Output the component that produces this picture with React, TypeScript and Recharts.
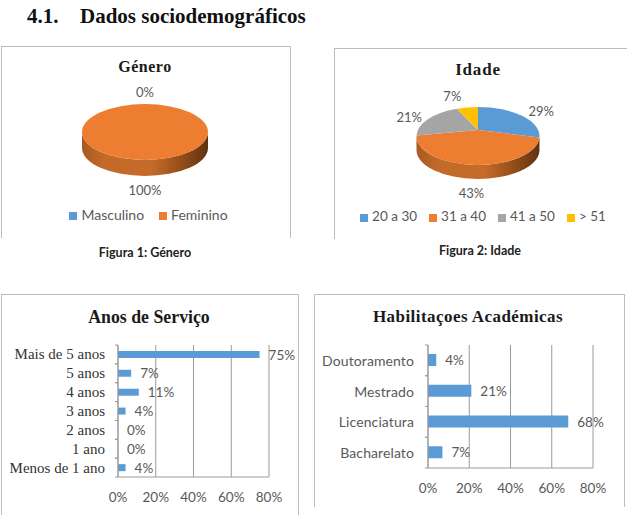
import { Bar, BarChart, CartesianGrid, LabelList, Legend, Pie, PieChart, XAxis, YAxis } from 'recharts';

const generoNames = ['Masculino', 'Feminino'];
const generoValues = [0, 100];
const generoColors = ['#5b9bd5', '#ed7d31'];

const idadeNames = ['20 a 30', '31 a 40', '41 a 50', '> 51'];
const idadeValues = [29, 43, 21, 7];
const idadeColors = ['#5b9bd5', '#ed7d31', '#a5a5a5', '#ffc000'];

const servicoNames = ['Mais de 5 anos', '5 anos', '4 anos', '3 anos', '2 anos', '1 ano', 'Menos de 1 ano'];
const servicoValues = [75, 7, 11, 4, 0, 0, 4];

const habilitacoesNames = ['Doutoramento', 'Mestrado', 'Licenciatura', 'Bacharelato'];
const habilitacoesValues = [4, 21, 68, 7];

const pctTicks = [0, 20, 40, 60, 80];

const SERIF = '"Liberation Serif", serif';
const SANS = 'Lato, sans-serif';
const GREY = '#595959';
const FRAME = '#bdbdbd';
const AXIS = '#9a9a9a';

interface Tilt {
  ry: number;
  depth: number;
  lift: number;
}

// where a slice edge meets the tilted rim, as an ellipse parameter
function rimParam(angle: number, rx: number, tilt: Tilt) {
  const clock = ((90 - angle) * Math.PI) / 180;
  const dx = Math.sin(clock);
  const dy = (-Math.cos(clock) * tilt.ry) / rx;
  const a = (dx * dx) / (rx * rx) + (dy * dy) / (tilt.ry * tilt.ry);
  const b = (2 * -tilt.lift * dy) / (tilt.ry * tilt.ry);
  const c = (tilt.lift * tilt.lift) / (tilt.ry * tilt.ry) - 1;
  const s = (-b + Math.sqrt(b * b - 4 * a * c)) / (2 * a);
  const px = s * dx;
  const py = -tilt.lift + s * dy;
  let t = Math.atan2(py / tilt.ry, px / rx);
  if (t < -Math.PI / 2) t += Math.PI * 2;
  return t;
}

function makeSlice(tilt: Tilt, gradientId: string) {
  return function Slice(props: any) {
    const { cx, cy, outerRadius: rx, startAngle, endAngle, fill } = props;
    const span = Math.abs(startAngle - endAngle);
    if (span < 0.01) return <g />;
    const ry = tilt.ry;
    const at = (t: number, down = 0) =>
      `${cx + rx * Math.cos(t)} ${cy + ry * Math.sin(t) + down}`;
    const full = span > 359.9;
    const t1 = full ? -Math.PI / 2 : rimParam(startAngle, rx, tilt);
    let t2 = full ? (3 * Math.PI) / 2 : rimParam(endAngle, rx, tilt);
    if (t2 <= t1) t2 += Math.PI * 2;

    const top = full
      ? `M${at(0)} A${rx} ${ry} 0 1 1 ${at(Math.PI)} A${rx} ${ry} 0 1 1 ${at(0)} Z`
      : `M${cx} ${cy - tilt.lift} L${at(t1)} A${rx} ${ry} 0 ${t2 - t1 > Math.PI ? 1 : 0} 1 ${at(t2)} Z`;

    const wallFrom = Math.max(t1, 0);
    const wallTo = Math.min(t2, Math.PI);
    const wall =
      wallTo > wallFrom
        ? `M${at(wallFrom)} A${rx} ${ry} 0 0 1 ${at(wallTo)} L${at(wallTo, tilt.depth)} A${rx} ${ry} 0 0 0 ${at(wallFrom, tilt.depth)} Z`
        : null;

    return (
      <g>
        {wall && <path d={wall} fill={`url(#${gradientId})`} />}
        <path d={top} fill={fill} />
      </g>
    );
  };
}

function makeLabel(tilt: Tilt) {
  return function PieLabel(props: any) {
    const { cx, cy, midAngle, outerRadius: rx, value } = props;
    const clock = ((90 - midAngle) * Math.PI) / 180;
    const cos = Math.cos(clock);
    const sin = Math.sin(clock);
    const reach = cos >= 0 ? tilt.ry + 12 : tilt.ry + tilt.depth + 14;
    return (
      <text
        x={cx + (rx + 13) * Math.sign(sin) * Math.pow(Math.abs(sin), 0.7)}
        y={cy - reach * cos}
        textAnchor="middle"
        dominantBaseline="central"
        fontFamily={SANS}
        fontSize={13}
        fill={GREY}
      >
        {value}%
      </text>
    );
  };
}

function WallGradient({ id }: { id: string }) {
  return (
    <defs>
      <linearGradient id={id} x1="0" y1="0" x2="1" y2="0">
        <stop offset="0%" stopColor="#a65a22" />
        <stop offset="18%" stopColor="#c46a28" />
        <stop offset="55%" stopColor="#c66c2a" />
        <stop offset="82%" stopColor="#8c4a18" />
        <stop offset="100%" stopColor="#5e3210" />
      </linearGradient>
    </defs>
  );
}

function Frame({ left, top, width, height }: { left: number; top: number; width: number; height: number }) {
  return (
    <div
      style={{
        position: 'absolute',
        left,
        top,
        width,
        height,
        borderTop: `1px solid ${FRAME}`,
        borderLeft: `1px solid ${FRAME}`,
        borderRight: `1px solid ${FRAME}`,
      }}
    />
  );
}

function Title({ text, x, y, size, spacing = 0 }: { text: string; x: number; y: number; size: number; spacing?: number }) {
  return (
    <div
      style={{
        position: 'absolute',
        left: x - 150,
        top: y - 15,
        width: 300,
        height: 30,
        lineHeight: '30px',
        textAlign: 'center',
        fontFamily: SERIF,
        fontWeight: 'bold',
        fontSize: size,
        letterSpacing: spacing,
        color: '#1a1a1a',
      }}
    >
      {text}
    </div>
  );
}

function Caption({ text, x, y }: { text: string; x: number; y: number }) {
  return (
    <div
      style={{
        position: 'absolute',
        left: x - 100,
        top: y - 8,
        width: 200,
        height: 16,
        lineHeight: '16px',
        textAlign: 'center',
        fontFamily: SANS,
        fontWeight: 'bold',
        fontSize: 12.5,
        color: '#222',
      }}
    >
      {text}
    </div>
  );
}

function TiltedPie({ id, names, values, colors, left, top, width, height, cx, cy, rx, tilt, legendTop, legendLeft, legendGap, legendSize }: any) {
  const data = names.map((name: string, i: number) => ({ name, value: values[i], fill: colors[i] }));
  return (
    <div style={{ position: 'absolute', left, top }}>
      <PieChart width={width} height={height} margin={{ top: 0, right: 0, bottom: 0, left: 0 }}>
        <WallGradient id={id} />
        <Pie
          data={data}
          dataKey="value"
          nameKey="name"
          cx={cx}
          cy={cy}
          outerRadius={rx}
          startAngle={90}
          endAngle={-270}
          stroke="none"
          shape={makeSlice(tilt, id)}
          label={makeLabel(tilt)}
          labelLine={false}
          isAnimationActive={false}
        />
        <Legend
          iconType="square"
          iconSize={8}
          verticalAlign="bottom"
          itemSorter={null}
          wrapperStyle={{ top: legendTop, left: legendLeft, bottom: 'auto', fontFamily: SANS, fontSize: legendSize }}
          formatter={(value: string) => (
            <span style={{ color: GREY, marginRight: legendGap }}>{value}</span>
          )}
        />
      </PieChart>
    </div>
  );
}

function CategoryTick({ x, y, payload, band, font, size, gap, spacing }: any) {
  return (
    <g>
      <line x1={x - 3} x2={x} y1={y - band / 2} y2={y - band / 2} stroke={AXIS} />
      <line x1={x - 3} x2={x} y1={y + band / 2} y2={y + band / 2} stroke={AXIS} />
      <text
        x={x - gap}
        y={y}
        textAnchor="end"
        dominantBaseline="central"
        fontFamily={font}
        fontSize={size}
        letterSpacing={spacing}
        fill={font === SERIF ? '#333' : GREY}
      >
        {payload.value}
      </text>
    </g>
  );
}

function BarValue({ x, y, width, height, value }: any) {
  return (
    <text
      x={Number(x) + Number(width) + 9}
      y={Number(y) + Number(height) / 2}
      dominantBaseline="central"
      fontFamily={SANS}
      fontSize={13.5}
      fill={GREY}
    >
      {value}%
    </text>
  );
}

function HBars({ names, values, left, top, width, height, margin, yWidth, barSize, font, size, gap, spacing }: any) {
  const data = names.map((name: string, i: number) => ({ name, value: values[i] }));
  const plotHeight = height - margin.top - margin.bottom - 30;
  return (
    <div style={{ position: 'absolute', left, top }}>
      <BarChart width={width} height={height} data={data} layout="vertical" margin={margin} barCategoryGap={0}>
        <CartesianGrid horizontal={false} stroke={AXIS} />
        <XAxis
          type="number"
          domain={[0, 80]}
          ticks={pctTicks}
          height={30}
          tickLine={false}
          axisLine={{ stroke: AXIS }}
          tickFormatter={(v: number) => `${v}%`}
          tick={{ fontFamily: SANS, fontSize: 13.5, fill: GREY }}
          tickMargin={9}
          interval={0}
        />
        <YAxis
          type="category"
          dataKey="name"
          width={yWidth}
          tickSize={0}
          tickMargin={0}
          tickLine={false}
          axisLine={{ stroke: AXIS }}
          interval={0}
          tick={<CategoryTick band={plotHeight / names.length} font={font} size={size} gap={gap} spacing={spacing} />}
        />
        <Bar dataKey="value" fill="#5b9bd5" barSize={barSize} minPointSize={0.01} isAnimationActive={false}>
          <LabelList dataKey="value" content={<BarValue />} />
        </Bar>
      </BarChart>
    </div>
  );
}

export default function App() {
  return (
    <div style={{ position: 'absolute', left: 0, top: 0, width: 627, height: 532, background: '#fff', overflow: 'hidden' }}>
      <div
        style={{
          position: 'absolute',
          left: 27,
          top: 3,
          fontFamily: SERIF,
          fontWeight: 'bold',
          fontSize: 21,
          lineHeight: '26px',
          color: '#111',
          whiteSpace: 'nowrap',
        }}
      >
        4.1.
        <span style={{ position: 'absolute', left: 53 }}>Dados sociodemográficos</span>
      </div>

      <Frame left={1} top={46} width={288} height={191} />
      <Frame left={334} top={48} width={292} height={190} />
      <Frame left={1} top={294} width={296} height={220} />
      <Frame left={314} top={294} width={309} height={212} />

      <Title text="Género" x={145} y={67} size={16} spacing={0.5} />
      <Title text="Idade" x={478} y={70} size={17} spacing={0.8} />
      <Title text="Anos de Serviço" x={149} y={317} size={17.8} />
      <Title text="Habilitaçoes Académicas" x={468} y={317} size={17} spacing={0.45} />

      <TiltedPie
        id="wallGenero"
        names={generoNames}
        values={generoValues}
        colors={generoColors}
        left={0}
        top={46}
        width={290}
        height={190}
        cx={145}
        cy={86}
        rx={63}
        tilt={{ ry: 28, depth: 16, lift: 0 }}
        legendTop={160}
        legendLeft={11}
        legendGap={5}
        legendSize={14}
      />
      <TiltedPie
        id="wallIdade"
        names={idadeNames}
        values={idadeValues}
        colors={idadeColors}
        left={334}
        top={48}
        width={290}
        height={190}
        cx={144}
        cy={88}
        rx={61.5}
        tilt={{ ry: 29, depth: 14, lift: 6 }}
        legendTop={160}
        legendLeft={10}
        legendGap={2}
        legendSize={13.5}
      />

      <HBars
        names={servicoNames}
        values={servicoValues}
        left={0}
        top={290}
        width={310}
        height={225}
        margin={{ top: 55, right: 41, bottom: 8, left: 0 }}
        yWidth={118}
        barSize={7}
        font={SERIF}
        size={15}
        gap={13}
        spacing={0}
      />
      <HBars
        names={habilitacoesNames}
        values={habilitacoesValues}
        left={310}
        top={290}
        width={317}
        height={216}
        margin={{ top: 55, right: 34, bottom: 8, left: 0 }}
        yWidth={118}
        barSize={12}
        font={SANS}
        size={14}
        gap={14}
        spacing={0.1}
      />

      <Caption text="Figura 1: Género" x={145} y={253} />
      <Caption text="Figura 2: Idade" x={480} y={251} />
    </div>
  );
}
